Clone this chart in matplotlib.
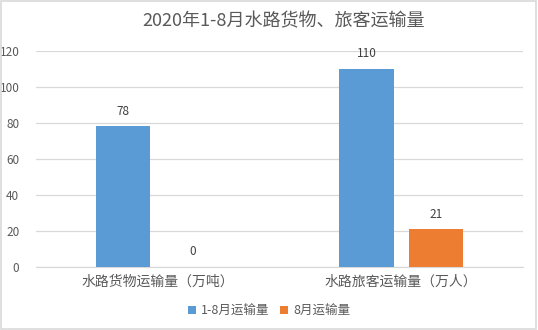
import matplotlib

matplotlib.use("Agg")
import matplotlib.pyplot as plt
import numpy as np
from matplotlib.patches import Rectangle

plt.rcParams["font.family"] = ["Noto Sans CJK SC", "DejaVu Sans"]

# transport volume, Jan-Aug 2020
categories = ["水路货物运输量（万吨）", "水路旅客运输量（万人）"]
series_names = ["1-8月运输量", "8月运输量"]
jan_aug = [78, 110]
aug = [0, 21]

blue = "#5b9bd5"
orange = "#ed7d31"
text_gray = "#595959"

fig = plt.figure(figsize=(5.38, 3.3), dpi=100)
ax = fig.add_axes([0.0669, 0.1918, 0.9051, 0.6546])

x = np.arange(len(categories))
width = 0.224
gap = 0.062
offset = (width + gap) / 2
bars1 = ax.bar(x - offset, jan_aug, width, color=blue, label=series_names[0], zorder=3)
bars2 = ax.bar(x + offset, aug, width, color=orange, label=series_names[1], zorder=3)

for bars, vals in ((bars1, jan_aug), (bars2, aug)):
    for b, v in zip(bars, vals):
        ax.annotate(
            f"{v}",
            (b.get_x() + b.get_width() / 2, v),
            xytext=(0, 6),
            textcoords="offset points",
            ha="center",
            va="bottom",
            fontsize=8.5,
            color="#404040",
        )

ax.set_xlim(-0.5, 1.5)
ax.set_ylim(0, 120)
ax.set_yticks(range(0, 121, 20))
ax.set_xticks(x)
ax.set_xticklabels(categories, fontsize=10, color=text_gray)
ax.tick_params(axis="y", labelsize=8.5, labelcolor=text_gray, length=0, pad=12)
ax.tick_params(axis="x", length=0, pad=6)
ax.yaxis.grid(True, color="#d9d9d9", linewidth=0.9, zorder=0)
for side in ("top", "right", "left"):
    ax.spines[side].set_visible(False)
ax.spines["bottom"].set_color("#d9d9d9")
ax.spines["bottom"].set_linewidth(0.9)

fig.text(0.527, 0.935, "2020年1-8月水路货物、旅客运输量", ha="center", va="center",
         fontsize=13, color=text_gray)

fig.legend(
    loc="center",
    bbox_to_anchor=(0.5, 0.058),
    ncol=2,
    frameon=False,
    fontsize=9,
    labelcolor=text_gray,
    handlelength=0.7,
    handleheight=0.7,
    handletextpad=0.4,
    columnspacing=0.8,
)

fig.patches.append(
    Rectangle((0.002, 0.003), 0.995, 0.994, transform=fig.transFigure,
              fill=False, edgecolor="#d9d9d9", linewidth=1.2)
)

fig.savefig("out.png", dpi=100)
